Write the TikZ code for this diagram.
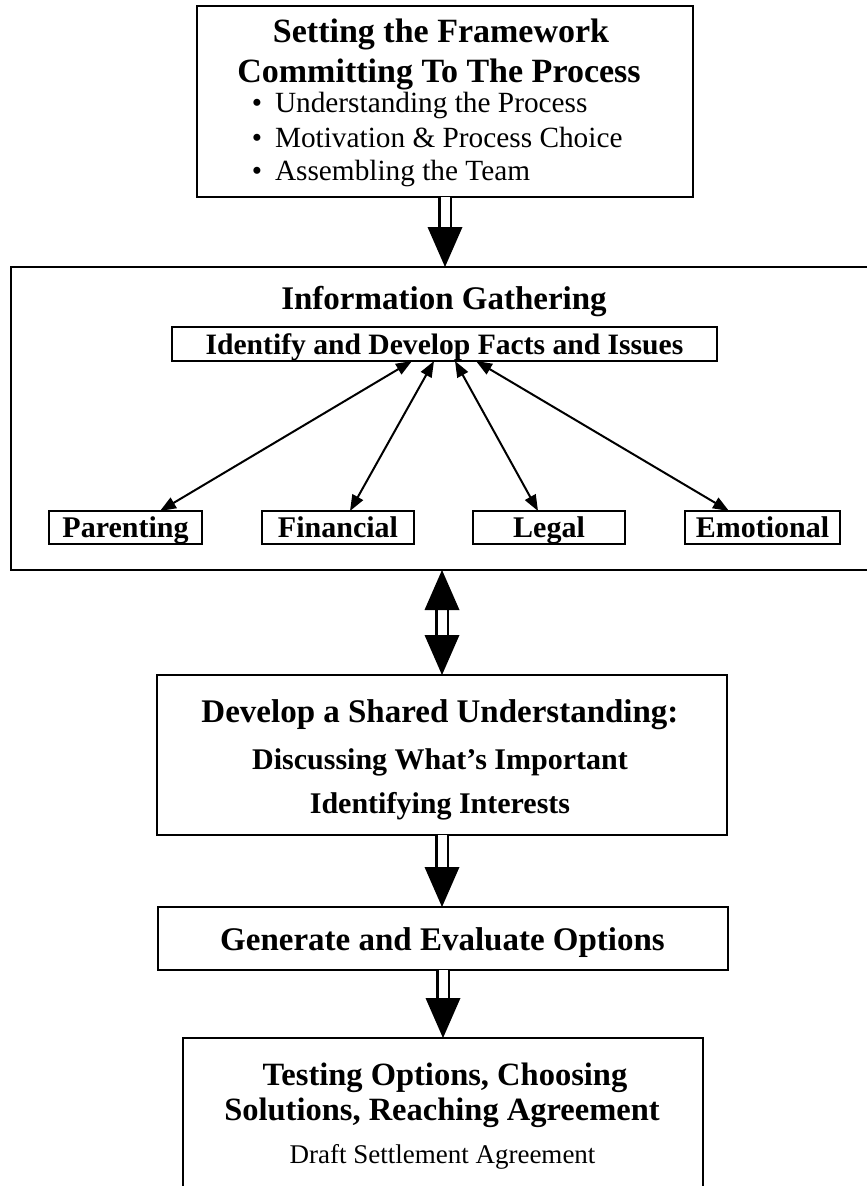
\documentclass[tikz,border=0pt]{standalone}
\usepackage{fontspec}
\setmainfont{Liberation Serif}
\usetikzlibrary{arrows.meta}
\newcommand\myfs[1]{\fontsize{#1}{#1}\selectfont}
\tikzset{
  box/.style={draw, line width=2pt, inner sep=0pt, outer sep=0pt},
  txt/.style={inner sep=0pt, outer sep=0pt, anchor=base},
  bighead/.tip={Triangle[width=35pt,length=40pt,line width=0pt]},
  bigarrow/.style={double, double distance=9pt, line width=2.5pt, -bighead},
  bigdarrow/.style={double, double distance=9pt, line width=2.5pt, bighead-bighead},
  link/.style={line width=2pt, {Triangle[width=12pt,length=16pt]}-{Triangle[width=12pt,length=16pt]}},
}
\begin{document}
\begin{tikzpicture}[x=1pt,y=-1pt]
\useasboundingbox (0,0) rectangle (867,1186);
\fill[white] (0,0) rectangle (867,1186);

% Box 1
\node[box, minimum width=496pt, minimum height=191pt] (b1) at (445,101.5) {};
\node[txt, font=\myfs{34}\bfseries] (t1a) at (441,42) {Setting the Framework};
\node[txt, font=\myfs{34}\bfseries] (t1b) at (439,82) {Committing To The Process};
\node[txt, font=\myfs{29.3}] (bu1) at (257,112) {•};
\node[txt, font=\myfs{29.3}, anchor=base west] (t1c) at (275,112) {Understanding the Process};
\node[txt, font=\myfs{29.3}] (bu2) at (257,147) {•};
\node[txt, font=\myfs{29.3}, anchor=base west] (t1d) at (275,147) {Motivation \& Process Choice};
\node[txt, font=\myfs{29.3}] (bu3) at (257,180) {•};
\node[txt, font=\myfs{29.3}, anchor=base west] (t1e) at (275,180) {Assembling the Team};

% Box 2
\node[box, line width=2.5pt, minimum width=894pt, minimum height=303pt] (b2) at (458,418.5) {};
\node[txt, font=\myfs{33}\bfseries] (t2) at (444,309) {Information Gathering};
\node[box, minimum width=545pt, minimum height=34pt] (id) at (444.5,344) {};
\node[txt, font=\myfs{29.6}\bfseries] (tid) at (444.5,354) {Identify and Develop Facts and Issues};
\node[box, minimum width=153pt, minimum height=33pt] (par) at (125.5,527.5) {};
\node[box, minimum width=152pt, minimum height=33pt] (fin) at (338,527.5) {};
\node[box, minimum width=152pt, minimum height=33pt] (leg) at (549,527.5) {};
\node[box, minimum width=155pt, minimum height=33pt] (emo) at (762.5,527.5) {};
\node[txt, font=\myfs{30}\bfseries] (tpar) at (125.5,537) {Parenting};
\node[txt, font=\myfs{30}\bfseries] (tfin) at (338,537) {Financial};
\node[txt, font=\myfs{30}\bfseries] (tleg) at (549,537) {Legal};
\node[txt, font=\myfs{30}\bfseries] (temo) at (762.5,537) {Emotional};

\draw[link] ([xshift=-32.5pt]id.south) -- ([xshift=34.5pt]par.north);
\draw[link] ([xshift=-10.5pt]id.south) -- ([xshift=12pt]fin.north);
\draw[link] ([xshift=10.5pt]id.south) -- ([xshift=-11pt]leg.north);
\draw[link] ([xshift=31.5pt]id.south) -- ([xshift=-33.5pt]emo.north);

% Box 3
\node[box, minimum width=570pt, minimum height=160pt] (b3) at (442,755) {};
\node[txt, font=\myfs{33}\bfseries] (t3a) at (440,722) {Develop a Shared Understanding:};
\node[txt, font=\myfs{30}\bfseries] (t3b) at (440,769) {Discussing What’s Important};
\node[txt, font=\myfs{30}\bfseries] (t3c) at (440,813) {Identifying Interests};

% Box 4
\node[box, minimum width=570pt, minimum height=63pt] (b4) at (443,938.5) {};
\node[txt, font=\myfs{33}\bfseries] (t4) at (442.5,950) {Generate and Evaluate Options};

% Box 5
\node[box, minimum width=520pt, minimum height=172pt] (b5) at (443,1124) {};
\node[txt, font=\myfs{32.5}\bfseries] (t5a) at (445,1085) {Testing Options, Choosing};
\node[txt, font=\myfs{32.5}\bfseries] (t5b) at (442,1120) {Solutions, Reaching Agreement};
\node[txt, font=\myfs{27}] (t5c) at (442.5,1163) {Draft Settlement Agreement};

% Big arrows
\draw[bigarrow] (b1.south) -- (b1.south |- b2.north);
\draw[bigdarrow] (b3.north |- b2.south) -- (b3.north);
\draw[bigarrow] (b3.south) -- (b3.south |- b4.north);
\draw[bigarrow] (b4.south) -- (b4.south |- b5.north);
\end{tikzpicture}
\end{document}
